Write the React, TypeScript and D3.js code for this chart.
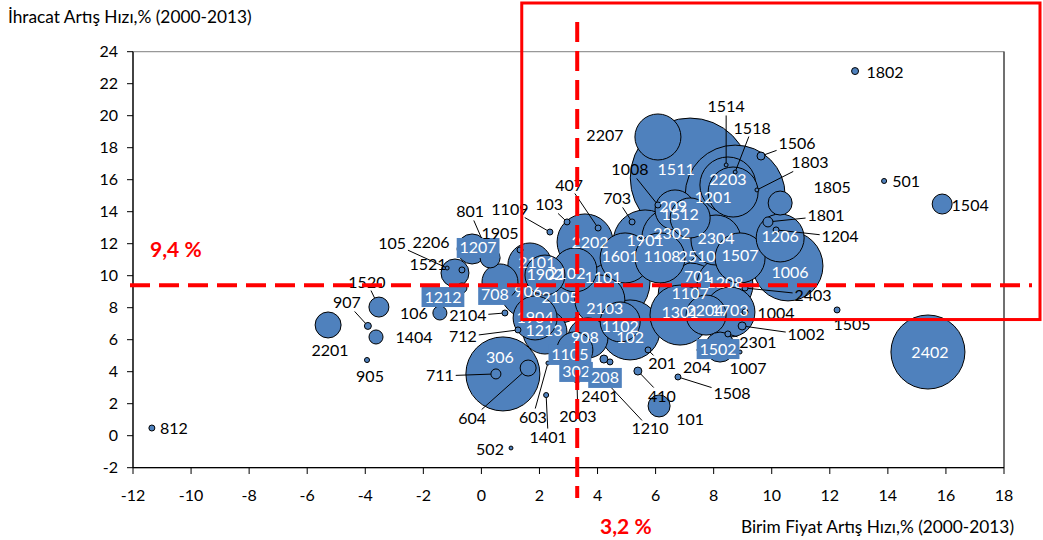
import React from 'react';
import * as d3 from 'd3';

// HS product codes and their values
const codes = ["812","2201","907","1520","1404","905","106","1521","105","2206","1207","801","1212","708","906","2104","712","306","711","604","603","1401","502","2003","2401","302","208","1210","1105","1213","908","102","1102","1904","2105","2101","1902","2102","2202","1101","2103","1601","1108","1901","2302","209","1512","2304","2510","1507","701","1107","1208","1301","1703","2204","1502","1511","1515","2203","1201","2207","1514","1518","1506","1803","1805","1801","1204","1206","1006","2403","1004","1002","2301","1505","204","1007","1508","410","101","201","1008","703","407","103","1109","1905","1802","501","1504","2402"];
// Birim Fiyat Artış Hızı, %
const priceGrowth = [-11.35,-5.28,-3.91,-3.53,-3.63,-3.94,-1.43,-0.91,-1.18,-0.67,-0.32,0.30,-0.67,0.64,1.61,0.81,1.26,0.74,0.50,1.61,2.29,2.23,1.02,3.29,4.22,3.26,4.43,4.29,3.22,2.19,3.67,5.12,4.78,1.85,2.71,1.67,2.19,3.22,3.57,4.43,4.08,4.95,6.15,5.64,6.56,6.67,7.19,8.08,7.53,8.91,7.53,7.19,8.39,6.84,8.56,7.74,8.22,7.19,8.74,8.49,8.67,6.08,8.43,8.74,9.63,9.49,10.29,9.87,10.15,10.29,10.56,9.08,9.08,8.98,8.49,12.25,7.53,8.91,6.77,5.39,6.12,5.74,6.08,5.19,4.02,2.95,2.36,1.33,12.87,13.87,15.87,15.38];
// İhracat Artış Hızı, %
const exportGrowth = [0.48,6.92,6.86,8.04,6.17,4.73,7.67,10.17,10.48,10.36,11.67,11.11,9.23,9.61,9.11,7.67,6.61,3.86,3.86,4.23,4.54,2.54,-0.77,3.48,4.79,4.61,4.61,3.36,5.36,6.48,6.11,6.61,7.11,7.36,8.61,10.67,10.04,10.36,12.11,9.61,8.48,11.11,11.11,12.11,12.36,14.11,13.61,12.23,11.11,11.11,9.86,8.79,9.42,7.54,7.73,7.54,5.54,16.11,15.04,15.67,15.23,18.67,16.92,16.48,17.48,15.36,14.54,13.36,12.86,12.36,10.61,9.23,7.73,6.86,6.36,7.86,5.36,5.23,3.67,4.04,1.86,5.36,14.42,13.36,12.98,13.36,12.73,11.61,22.79,15.92,14.48,5.23];
// bubble size (export share)
const exportShare = [0.14,2.64,0.19,1.56,0.77,0.1,0.77,3.06,0.06,0.14,3.52,1.56,0.39,5.06,12.25,0.14,0.14,21.4,0.39,1.0,0.06,0.1,0.06,0.14,0.25,0.25,0.14,0.06,5.06,7.56,6.25,14.06,6.25,7.56,9.77,7.56,6.25,7.56,12.25,25,9.77,9.77,9.77,16,14.06,6.25,6.25,9.77,19.1,9.77,19.1,16,12.25,14.06,9.77,6.25,3.52,56,39,12.25,9.77,8.27,0.06,0.06,0.25,0.06,2.25,0.39,0.14,9,19.1,0.14,0.14,0.25,0.14,0.14,0.14,0.06,0.14,0.25,1.89,0.14,0.14,0.14,0.14,0.14,0.14,0.14,0.19,0.1,1.56,21.4];

const xTicks = d3.range(-12, 19, 2);
const yTicks = d3.range(-2, 25, 2);
const xTitle = "Birim Fiyat Artış Hızı,% (2000-2013)";
const yTitle = "İhracat Artış Hızı,% (2000-2013)";
const avgPrice = 3.3; // reference line ("3,2 %")
const avgExport = 9.4;
const avgPriceText = "3,2 %";
const avgExportText = "9,4 %";

// label placement: [dx, dy, kind]  o = outside, l = outside + leader, w = white inside, b = boxed, n = none
const labelLayout: Record<string, [number, number, string]> = {
  "812":[22,0,'o'],"2201":[2,26,'o'],"907":[-21,-23,'l'],"1520":[-12,-25,'l'],"1404":[38,1,'o'],"905":[3,16,'o'],
  "106":[-26,1,'o'],"1521":[-27,-8,'o'],"105":[-55,-25,'l'],"2206":[-31,-27,'o'],"1207":[6,-1,'b'],"801":[-20,-46,'l'],
  "1212":[-19,9,'b'],"708":[-5,13,'b'],"906":[0,2,'w'],"2104":[-37,3,'l'],"712":[-55,7,'l'],"306":[-3,-16,'w'],
  "711":[-56,2,'l'],"604":[-56,50,'l'],"603":[-15,54,'l'],"1401":[2,42,'l'],"502":[-21,1,'o'],"2003":[1,36,'l'],
  "2401":[-4,37,'o'],"302":[0,10,'b'],"208":[-5,16,'b'],"1210":[44,47,'l'],"1105":[-5,5,'b'],"1213":[-1,-2,'w'],
  "908":[-3,0,'w'],"102":[0,8,'w'],"1102":[0,5,'w'],"1904":[0,0,'w'],"2105":[0,0,'w'],"2101":[7,-2,'w'],
  "1902":[0,-1,'w'],"2102":[-8,4,'w'],"2202":[5,1,'w'],"1101":[-7,-4,'w'],"2103":[5,8,'w'],"1601":[-5,-1,'w'],
  "1108":[2,-1,'w'],"1901":[0,-1,'w'],"2302":[0,-4,'w'],"209":[-2,-3,'w'],"1512":[-10,-3,'w'],"2304":[0,-2,'w'],
  "2510":[-3,-1,'w'],"1507":[0,-2,'w'],"701":[-2,-1,'w'],"1107":[0,-2,'w'],"1208":[0,-2,'w'],"1301":[0,-3,'w'],
  "1703":[0,-2,'w'],"2204":[-1,-5,'w'],"1502":[-2,2,'b'],"1511":[-14,-8,'w'],"1515":[0,0,'n'],"2203":[0,-5,'w'],
  "1201":[-20,5,'w'],"2207":[-53,-1,'o'],"1514":[0,-58,'l'],"1518":[17,-44,'l'],"1506":[36,-13,'l'],"1803":[53,-27,'l'],
  "1805":[52,-16,'o'],"1801":[58,-6,'l'],"1204":[64,7,'l'],"1206":[0,-1,'w'],"1006":[2,7,'w'],"2403":[68,7,'l'],
  "1004":[31,1,'o'],"1002":[64,9,'l'],"2301":[30,9,'l'],"1505":[15,15,'o'],"204":[-3,18,'o'],"1007":[8,16,'o'],
  "1508":[54,17,'l'],"410":[24,25,'l'],"101":[31,14,'o'],"201":[14,14,'l'],"1008":[-28,-35,'l'],"703":[-15,-23,'l'],
  "407":[-29,-43,'l'],"103":[-18,-17,'l'],"1109":[-40,-23,'l'],"1905":[-20,-16,'o'],"1802":[30,1,'o'],"501":[22,1,'o'],
  "1504":[28,1,'o'],"2402":[2,0,'w']
};

const FONT = "Lato, 'Open Sans', sans-serif";
const BLUE = "#4F81BD";
const RED = "#FF0000";

export default function App() {
  const W = 1043, H = 540;
  const x = d3.scaleLinear().domain([-12, 18]).range([133, 1004]);
  const y = d3.scaleLinear().domain([-2, 24]).range([467.7, 51.7]);
  const r = d3.scaleSqrt().domain([0, 100]).range([0, 80]);

  const pts = codes.map((c, i) => ({
    code: c, cx: x(priceGrowth[i]), cy: y(exportGrowth[i]), rr: r(exportShare[i]), lay: labelLayout[c] || [0, 0, 'w']
  }));
  const drawOrder = [...pts].sort((a, b) => b.rr - a.rr);
  const charW = 9.2, lh = 15;

  const leader = (p: any) => {
    const [dx, dy] = p.lay;
    const lx = p.cx + dx, ly = p.cy + dy;
    const w = p.code.length * charW / 2 + 2, h = lh / 2 + 1;
    const vx = p.cx - lx, vy = p.cy - ly;
    const t = Math.min(Math.abs(vx) > 0 ? w / Math.abs(vx) : Infinity, Math.abs(vy) > 0 ? h / Math.abs(vy) : Infinity);
    const sx = lx + vx * t, sy = ly + vy * t;
    const len = Math.hypot(vx, vy);
    const ex = p.cx - vx / len * p.rr, ey = p.cy - vy / len * p.rr;
    return <line key={'ld' + p.code} x1={sx} y1={sy} x2={ex} y2={ey} stroke="#000" strokeWidth={1} />;
  };

  return (
    <svg width={W} height={H} style={{ position: 'absolute', left: 0, top: 0, background: '#fff' }} fontFamily={FONT}>
      {/* plot frame */}
      <rect x={133} y={51.7} width={1004 - 133} height={467.7 - 51.7} fill="none" stroke="#7f7f7f" strokeWidth={1} />
      <line x1={1004} x2={1004} y1={51.7} y2={467.7} stroke="#222" />
      <line x1={133} x2={133} y1={51.7} y2={467.7} stroke="#000" strokeWidth={1.3} />
      <line x1={133} x2={1004} y1={467.7} y2={467.7} stroke="#000" strokeWidth={1.3} />
      {yTicks.map(t => (
        <g key={'yt' + t}>
          <line x1={127} x2={133} y1={y(t)} y2={y(t)} stroke="#000" />
          <text x={118} y={y(t) + 5.5} textAnchor="end" fontSize={16} fill="#000">{t}</text>
        </g>
      ))}
      {xTicks.map(t => (
        <g key={'xt' + t}>
          <line x1={x(t)} x2={x(t)} y1={467.7} y2={474} stroke="#000" />
          <text x={x(t)} y={501} textAnchor="middle" fontSize={16} fill="#000">{t}</text>
        </g>
      ))}
      <text x={8} y={23} fontSize={17.3} fill="#000">{yTitle}</text>
      <text x={1014} y={533} textAnchor="end" fontSize={17.3} fill="#000">{xTitle}</text>

      {/* bubbles */}
      {drawOrder.map(p => (
        <circle key={'c' + p.code} cx={p.cx} cy={p.cy} r={Math.max(p.rr, 1.5)} fill={BLUE} stroke="#000" strokeWidth={1} />
      ))}

      {/* leader lines */}
      {pts.filter(p => p.lay[2] === 'l').map(leader)}

      {/* labels */}
      {pts.filter(p => p.lay[2] !== 'n').map(p => {
        const [dx, dy, kind] = p.lay;
        const lx = p.cx + dx, ly = p.cy + dy;
        const w = p.code.length * charW + 6;
        return (
          <g key={'l' + p.code}>
            {kind === 'b' && <rect x={lx - w / 2} y={ly - 10} width={w} height={20} fill={BLUE} />}
            <text x={lx} y={ly + 5.5} textAnchor="middle" fontSize={16}
              fill={kind === 'w' || kind === 'b' ? '#fff' : '#000'}>{p.code}</text>
          </g>
        );
      })}

      {/* annotations */}
      <line x1={x(avgPrice)} x2={x(avgPrice)} y1={22} y2={498} stroke={RED} strokeWidth={4} strokeDasharray="20 9" />
      <line x1={130} x2={1032} y1={y(avgExport)} y2={y(avgExport)} stroke={RED} strokeWidth={4} strokeDasharray="20 9" />
      <rect x={x(1.39)} y={3} width={1040 - x(1.39)} height={y(7.26) - 3} fill="none" stroke={RED} strokeWidth={3} />
      <text x={150} y={257} fontSize={21} fontWeight="bold" fill={RED}>{avgExportText}</text>
      <text x={600} y={534} fontSize={21} fontWeight="bold" fill={RED}>{avgPriceText}</text>
    </svg>
  );
}
